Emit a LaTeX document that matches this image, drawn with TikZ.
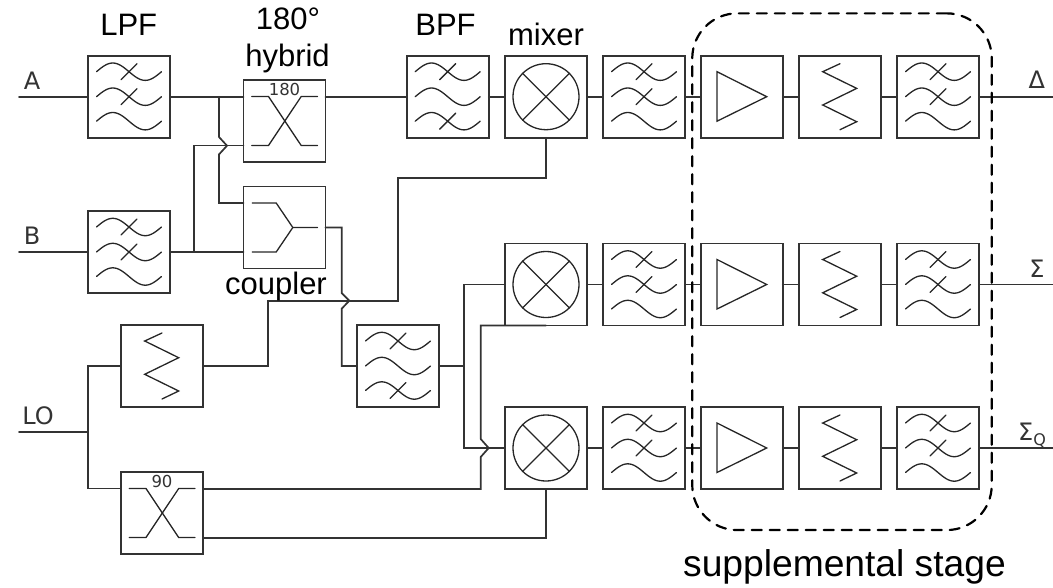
\documentclass[tikz,border=0pt]{standalone}
\usepackage{fontspec}
\setmainfont{Liberation Sans}
\newfontfamily\symfont{DejaVu Sans}
\usetikzlibrary{positioning}
\definecolor{drawgray}{HTML}{333333}
\newcommand{\filterwave}[1]{
	\draw[symline] plot[domain=-32.5:32.5, samples=33, smooth] (\x,{#1+8.7*sin(5.54*\x)});
}
\newcommand{\filterslash}[1]{
	\draw[symline] (-8,#1+8) -- (8,#1-8);
}
\tikzset{
	wire/.style={drawgray, line width=1.7pt},
	symline/.style={black!85, line width=1.3pt},
	blockbox/.style={draw=drawgray, line width=1.7pt, minimum size=82pt, inner sep=0pt, outer sep=0pt},
	stagebox/.style={
		draw=black,
		dash pattern=on 10pt off 8pt,
		line width=2.2pt,
		rounded corners=45pt,
		minimum width=299.5pt,
		minimum height=516.7pt,
		inner sep=0pt
	},
	titlelabel/.style={font=\fontsize{31}{33}\selectfont, anchor=base, inner sep=0pt},
	stagelabel/.style={font=\fontsize{37.2}{39}\selectfont, anchor=base, inner sep=0pt},
	portlabel/.style={font=\symfont\fontsize{24}{26}\selectfont, anchor=base, inner sep=0pt, text=drawgray},
	deglabel/.style={font=\symfont\fontsize{16.5}{18}\selectfont, inner sep=0pt, text=drawgray},
	pics/lowpass/.style={code={
		\filterwave{-25}
		\filterslash{-25}
		\filterwave{0}
		\filterslash{0}
		\filterwave{24.5}
	}},
	pics/bandpass/.style={code={
		\filterwave{-25}
		\filterslash{-25}
		\filterwave{0}
		\filterwave{24.5}
		\filterslash{24.5}
	}},
	pics/mixersym/.style={code={
		\draw[symline] (0,0) circle (33pt);
		\draw[symline] (-23.3,-23.3) -- (23.3,23.3);
		\draw[symline] (-23.3,23.3) -- (23.3,-23.3);
	}},
	pics/ampsym/.style={code={
		\draw[symline] (-24.7,-25) -- (-24.7,24.5) -- (25,0) -- cycle;
	}},
	pics/attensym/.style={code={
		\draw[symline] (0,-33) -- (-17.3,-25) -- (16.7,-8.3) -- (-17.3,8.3) -- (16.7,25) -- (0,33);
	}},
	pics/hybridsym/.style={code={
		\draw[symline] (-32.7,-24.5) -- (-16,-24.5) -- (16.7,24.5) -- (33,24.5);
		\draw[symline] (-32.7,24.5) -- (-16,24.5) -- (16.7,-24.5) -- (33,-24.5);
		\node[deglabel] (deg) at (0,-31.5) {#1};
	}},
	pics/couplersym/.style={code={
		\draw[symline] (-32.3,-24.5) -- (-8.3,-24.5) -- (8.3,0) -- (33,0);
		\draw[symline] (-32.3,24.5) -- (-8.3,24.5) -- (8.3,0);
	}}
}
\begin{document}
\begin{tikzpicture}[x=1pt, y=-1pt, line cap=round]
	\useasboundingbox (0,0) rectangle (1053,587);
	% input side
	\node[blockbox] (lpfa) at (129,96.7) {};
	\node[blockbox] (lpfb) at (129,252) {};
	\node[blockbox] (hyb) at (284.5,121) {};
	\node[blockbox] (coup) at (284.5,227.5) {};
	\node[blockbox] (loatt) at (162,366) {};
	\node[blockbox] (hyb90) at (162,513) {};
	\node[blockbox] (bpfa) at (447.7,96.7) {};
	\node[blockbox] (bpfb) at (398,366) {};
	\pic at (lpfa) {lowpass};
	\pic at (lpfb) {lowpass};
	\pic at (hyb) {hybridsym=180};
	\pic at (coup) {couplersym};
	\pic at (loatt) {attensym};
	\pic at (hyb90) {hybridsym=90};
	\pic at (bpfa) {bandpass};
	\pic at (bpfb) {bandpass};
	% the three output rows
	\foreach \row/\rowy in {a/96.7, b/284.5, c/448} {
		\node[blockbox] (mix\row) at (546,\rowy) {};
		\node[blockbox] (ifl\row) at (644,\rowy) {};
		\node[blockbox] (amp\row) at (741.7,\rowy) {};
		\node[blockbox] (att\row) at (840,\rowy) {};
		\node[blockbox] (lpo\row) at (938,\rowy) {};
		\coordinate (out\row) at (1053,\rowy);
		\pic at (mix\row) {mixersym};
		\pic at (ifl\row) {lowpass};
		\pic at (amp\row) {ampsym};
		\pic at (att\row) {attensym};
		\pic at (lpo\row) {lowpass};
		\draw[wire] (mix\row) -- (ifl\row) -- (amp\row) -- (att\row) -- (lpo\row) -- (out\row);
	}
	% free ends and junctions
	\coordinate (ina) at (19,96.7);
	\coordinate (inb) at (19,252);
	\coordinate (inlo) at (19,431.7);
	\coordinate (jlo) at (88,431.7);
	\coordinate (ja) at (219,96.7);
	\coordinate (jb) at (194.3,252);
	\coordinate (jf) at (464,366);
	\draw[wire] (ina) -- (lpfa);
	\draw[wire] (inb) -- (lpfb);
	\draw[wire] (inlo) -- (jlo);
	\draw[wire] (jlo) |- (loatt.west);
	\draw[wire] (jlo) |- ([yshift=24.5pt]hyb90.west);
	\draw[wire] (lpfa) -- (lpfa -| hyb.west);
	\draw[wire] (lpfb) -- (lpfb -| coup.west);
	\draw[wire] (lpfa -| hyb.east) -- (bpfa);
	\draw[wire] (bpfa) -- (mixa);
	% branch to the coupler, jumps the B line
	\draw[wire]
		(ja) -- (219,137) -- ++(8,8.7) -- ++(-8,8.7) |- ([yshift=24.5pt]coup.west);
	\draw[wire] (jb) |- ([yshift=-24.5pt]hyb.west);
	% coupler to the band pass, jumps the LO line
	\draw[wire]
		(coup.east) -| (341.7,293) -- ++(7.6,7.7) -- ++(-7.6,8) |- (bpfb.west);
	\draw[wire] (loatt.east) -| (268,300.7) -| (398,178) -| (mixa.south);
	\draw[wire] (bpfb.east) -- (jf);
	\draw[wire] (jf) |- (mixb.west);
	\draw[wire] (jf) |- (mixc.west);
	% mixer b to 90 deg hybrid, jumps the mixer c line
	\draw[wire]
		(hyb90.east |- 0,489) -| (480.7,457) -- ++(8,-9) -- ++(-8,-9) |- (mixb.south);
	\draw[wire] (hyb90.east |- 0,538) -| (mixc.south);
	% labels
	\node[titlelabel] (lbllpf) at (128.7,35.7) {LPF};
	\node[titlelabel] (lbldeg) at (288,29) {180°};
	\node[titlelabel] (lblhyb) at (287.5,66.7) {hybrid};
	\node[titlelabel] (lblbpf) at (445.5,35) {BPF};
	\node[titlelabel] (lblmix) at (546,45) {mixer};
	\node[titlelabel] (lblcoup) at (276,294) {coupler};
	\node[stagelabel] (lblstage) at (844.5,576) {supplemental stage};
	\node[portlabel] (lbla) at (32,89.3) {A};
	\node[portlabel] (lblb) at (32,244) {B};
	\node[portlabel] (lbllo) at (38,424) {LO};
	\node[portlabel] (lbldelta) at (1036.7,88) {Δ};
	\node[portlabel] (lblsum) at (1037,277) {Σ};
	\node[portlabel] (lblsumq) at (1032,440.7) {Σ\raisebox{-4.5pt}{\fontsize{16}{16}\selectfont Q}};
	% supplemental stage outline
	\node[stagebox] (stage) at (842,271.7) {};
\end{tikzpicture}
\end{document}
